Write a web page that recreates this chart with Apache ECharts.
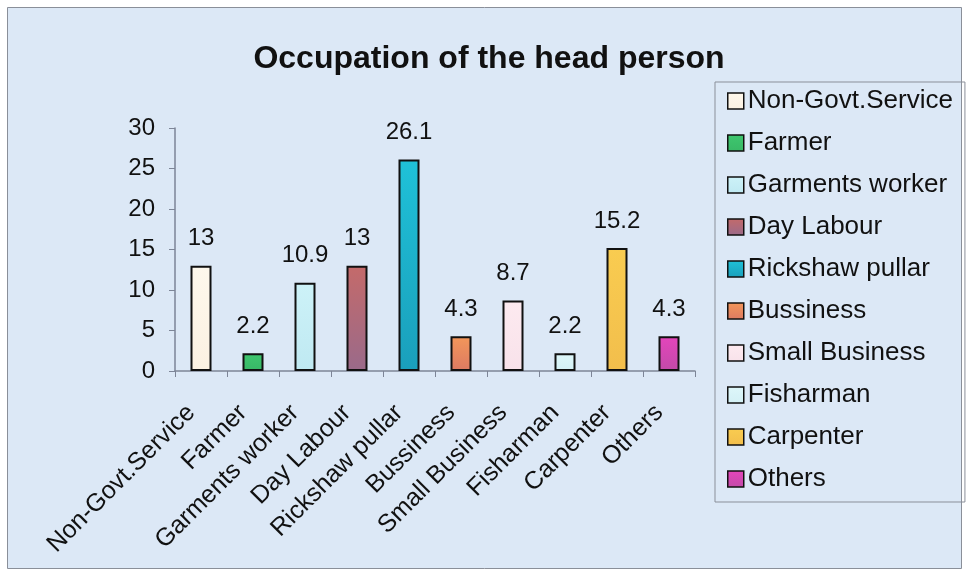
<!DOCTYPE html>
<html>
<head>
<meta charset="utf-8">
<script src="https://cdn.jsdelivr.net/npm/echarts@6/dist/echarts.min.js"></script>
<style>
	html, body { margin: 0; padding: 0; background: #ffffff; }
	#chart { width: 966px; height: 578px; }
</style>
</head>
<body>
<div id="chart"></div>
<script>
	// categories and values
	var occupations = ['Non-Govt.Service', 'Farmer', 'Garments worker', 'Day Labour', 'Rickshaw pullar',
		'Bussiness', 'Small Business', 'Fisharman', 'Carpenter', 'Others'];
	var percents = [13, 2.2, 10.9, 13, 26.1, 4.3, 8.7, 2.2, 15.2, 4.3];
	var yTicks = [0, 5, 10, 15, 20, 25, 30];
	// top / bottom colour of each bar (Excel two tone fill)
	var colorsTop = ['#fef8ec', '#3fc76f', '#cdf2f8', '#c46a6a', '#1fc1d8',
		'#f3975a', '#fdeaf0', '#def7fa', '#f9cc50', '#e545bc'];
	var colorsBottom = ['#fbf1e2', '#38b866', '#bfe9f2', '#9a6a8a', '#1a9fbb',
		'#dd7a62', '#f8e2ea', '#d3f0f5', '#f2be4c', '#c24aa8'];

	var myChart = echarts.init(document.getElementById('chart'));

	// one series per occupation so every bar gets its own legend entry
	var series = occupations.map(function (name, i) {
		var data = occupations.map(function (c, j) {
			return j === i ? percents[i] : '-';
		});
		return {
			name: name,
			type: 'bar',
			barWidth: 21,
			barGap: '-100%',
			data: data,
			itemStyle: {
				color: new echarts.graphic.LinearGradient(0, 0, 0, 1, [
					{ offset: 0, color: colorsTop[i] },
					{ offset: 1, color: colorsBottom[i] }
				]),
				borderColor: '#111',
				borderWidth: 2
			},
			label: {
				show: true,
				position: 'top',
				distance: 15,
				color: '#111',
				fontFamily: 'Liberation Sans',
				fontSize: 24
			}
		};
	});

	myChart.setOption({
		backgroundColor: '#ffffff',
		animation: false,
		graphic: [{
			type: 'rect',
			z: -10,
			shape: { x: 7.5, y: 7.5, width: 954, height: 561 },
			style: { fill: '#dce8f6', stroke: '#8a8f99', lineWidth: 1 }
		}],
		title: {
			text: 'Occupation of the head person',
			left: 484,
			textAlign: 'center',
			top: 38,
			textStyle: {
				fontFamily: 'Liberation Sans',
				fontWeight: 'bold',
				fontSize: 32,
				color: '#111'
			}
		},
		legend: {
			orient: 'vertical',
			left: 715,
			top: 82,
			padding: [6, 12, 10, 12],
			itemGap: 16,
			itemWidth: 16,
			itemHeight: 16,
			icon: 'rect',
			borderColor: '#8a8f99',
			borderWidth: 1,
			selectedMode: false,
			itemStyle: { borderColor: '#111', borderWidth: 1.5 },
			textStyle: {
				fontFamily: 'Liberation Sans',
				fontSize: 26,
				lineHeight: 26,
				color: '#111',
				padding: [0, 0, 0, -1]
			},
			data: occupations
		},
		grid: {
			left: 175,
			top: 128,
			width: 520,
			height: 243
		},
		xAxis: {
			type: 'category',
			data: occupations,
			axisLine: { lineStyle: { color: '#7d8597', width: 1.5 } },
			axisTick: { show: true, length: 6, lineStyle: { color: '#7d8597' } },
			axisLabel: {
				interval: 0,
				rotate: 45,
				margin: 28,
				padding: [0, 14, 0, 0],
				fontFamily: 'Liberation Sans',
				fontSize: 25,
				color: '#111'
			}
		},
		yAxis: {
			type: 'value',
			min: yTicks[0],
			max: yTicks[yTicks.length - 1],
			interval: 5,
			splitLine: { show: false },
			axisLine: { show: true, lineStyle: { color: '#7d8597', width: 1.5 } },
			axisTick: { show: true, length: 6, lineStyle: { color: '#7d8597' } },
			axisLabel: {
				margin: 20,
				fontFamily: 'Liberation Sans',
				fontSize: 24,
				color: '#111'
			}
		},
		series: series
	});
</script>
</body>
</html>
